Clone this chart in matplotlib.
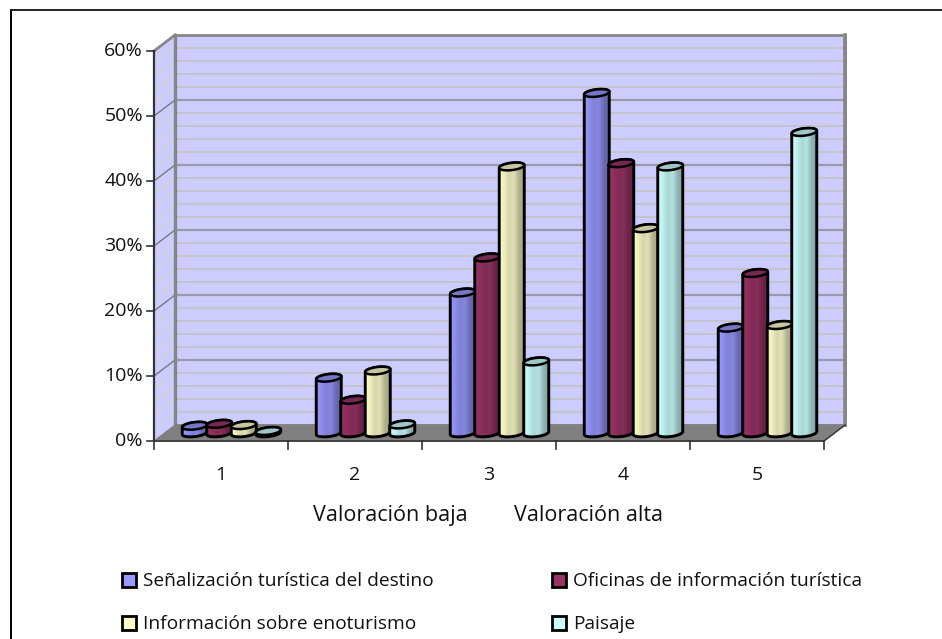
import numpy as np
import matplotlib
matplotlib.use("Agg")
import matplotlib.pyplot as plt
from matplotlib.colors import LinearSegmentedColormap
from matplotlib.lines import Line2D
from matplotlib.patches import PathPatch, Polygon, Rectangle
from matplotlib.path import Path

categories = ["1", "2", "3", "4", "5"]
series_names = [
    "Señalización turística del destino",
    "Oficinas de información turística",
    "Información sobre enoturismo",
    "Paisaje",
]
senalizacion = [1.1, 8.5, 21.6, 52.3, 16.2]
oficinas = [1.4, 5.1, 27.0, 41.5, 24.6]
enoturismo = [1.2, 9.6, 41.0, 31.5, 16.6]
paisaje = [0.3, 1.3, 11.0, 41.0, 46.3]
series_values = [senalizacion, oficinas, enoturismo, paisaje]
series_colors = ["#9999ff", "#993366", "#ffffcc", "#ccffff"]
y_ticks = [0, 10, 20, 30, 40, 50, 60]

W, H = 942, 639
plt.rcParams["font.family"] = ["Open Sans", "DejaVu Sans"]

fig = plt.figure(figsize=(W / 100, H / 100), dpi=100)
# front plane of the fake 3d box, in pixels
left, right, bottom, top = 154, 824, 441, 51
ax = fig.add_axes([left / W, 1 - bottom / H, (right - left) / W, (bottom - top) / H])
ax.set_xlim(0.5, 5.5)
ax.set_ylim(0, 60)
ax.axis("off")

px_x = 5 / (right - left)
px_y = 60 / (bottom - top)
dx = 21 * px_x
dy = 16 * px_y

wall = "#ccccff"
edge = "#868686"
floor = "#808080"


def box(points, **kw):
    ax.add_patch(Polygon(points, closed=True, clip_on=False, **kw))


box([(5.5 + dx, dy), (5.5 + dx, 60 + dy), (0.5 + dx, 60 + dy), (0.5 + dx, dy)], fc=wall, ec=edge, lw=2, zorder=1)
box([(0.5, 0), (0.5 + dx, dy), (0.5 + dx, 60 + dy), (0.5, 60)], fc=wall, ec="none", zorder=1)
box([(0.5, 0), (5.5, 0), (5.5 + dx, dy), (0.5 + dx, dy)], fc=floor, ec=floor, lw=0.8, zorder=2)

# gridlines on back wall and side wall
for v in np.arange(2, 60, 2):
    major = v % 10 == 0
    c = "#9a9aa8" if major else "#c4c4c8"
    ax.plot([0.5 + dx, 5.5 + dx], [v + dy, v + dy], color=c, lw=1.6 if major else 1.3, zorder=1.5, clip_on=False)
    ax.plot([0.5, 0.5 + dx], [v, v + dy], color="#808088" if major else "#d0d0d4", lw=1.1, zorder=1.5, clip_on=False)

ax.plot([0.5 + dx, 0.5 + dx], [dy, 60 + dy], color=edge, lw=2.4, zorder=1.6, clip_on=False)
ax.plot([0.5, 0.5 + dx], [60, 60 + dy], color=edge, lw=2, zorder=1.6, clip_on=False)
ax.plot([5.5 + dx, 5.5 + dx], [dy, 60 + dy], color=edge, lw=2.6, zorder=1.6, clip_on=False)

# axis lines and ticks
ax.plot([0.5, 0.5], [0, 60], color="#333333", lw=1.6, zorder=3, clip_on=False)
ax.plot([0.5, 5.5], [0, 0], color="#333333", lw=1.2, zorder=3, clip_on=False)
ax.plot([5.5, 5.5 + dx], [0, dy], color="#333333", lw=1, zorder=3, clip_on=False)
for v in y_ticks:
    ax.plot([0.5 - 7 * px_x, 0.5], [v, v], color="#333333", lw=1.2, clip_on=False, zorder=3)
    ax.text(0.5 - 11 * px_x, v, f"{v}%", ha="right", va="center", fontsize=14, color="#111111")
for i in range(6):
    ax.plot([0.5 + i, 0.5 + i], [0, -8 * px_y], color="#333333", lw=1.2, clip_on=False, zorder=3)
for i, c in enumerate(categories):
    ax.text(i + 1, -34 * px_y, c, ha="center", va="center", fontsize=14, color="#111111")

# cylinders
bar_step = 24.5 * px_x
bar_w = 25 * px_x
ell_h = 3.6 * px_y
tilt = 1.4 * px_y
base = 8 * px_y


def cylinder(cx, v, color, z):
    t = np.linspace(0, np.pi, 40)
    x = cx + bar_w / 2 * np.cos(t)
    top_y = base + v + ell_h * np.sin(t) + tilt * np.cos(t)
    bot_y = base - ell_h * np.sin(t) + tilt * np.cos(t)
    verts = np.r_[np.c_[x, top_y], np.c_[x[::-1], bot_y[::-1]], [[x[0], top_y[0]]]]
    body = Path(verts, closed=True)
    rgb = np.array(matplotlib.colors.to_rgb(color))
    cmap = LinearSegmentedColormap.from_list(
        "cyl", [rgb * 1.0, rgb * 0.93, rgb * 0.84, rgb * 0.88, rgb * 0.7, rgb * 0.64]
    )
    im = ax.imshow(
        np.linspace(0, 1, 64)[None, :],
        extent=(cx - bar_w / 2, cx + bar_w / 2, base - ell_h * 2, base + v + ell_h * 2),
        cmap=cmap, aspect="auto", zorder=z, interpolation="bilinear",
    )
    outline = PathPatch(body, fc="none", ec="black", lw=2.1, zorder=z + 0.02, clip_on=False)
    ax.add_patch(outline)
    im.set_clip_path(outline)
    # top cap
    t2 = np.linspace(np.pi, 2 * np.pi, 40)
    x2 = cx + bar_w / 2 * np.cos(t2)
    y2 = base + v + ell_h * np.sin(t2) + tilt * np.cos(t2)
    cap = np.r_[np.c_[x, top_y], np.c_[x2, y2]]
    ax.add_patch(Polygon(cap, closed=True, fc=rgb * 0.78, ec="black", lw=1.8, zorder=z + 0.03, clip_on=False))


for i in range(len(categories)):
    for j, vals in enumerate(series_values):
        cx = i + 1 + dx / 2 + (j - 1.5) * bar_step
        cylinder(cx, vals[i], series_colors[j], 4 + i + j * 0.1)

ax.set_xlim(0.5, 5.5)
ax.set_ylim(0, 60)

fig.text(390 / W, 1 - 521 / H, "Valoración baja", ha="center", va="baseline", fontsize=15.5, color="#111111")
fig.text(589 / W, 1 - 521 / H, "Valoración alta", ha="center", va="baseline", fontsize=15.5, color="#111111")

# legend
legend_pos = [(122, 580), (552, 580), (122, 623), (552, 623)]
for (lx, ly), name, color in zip(legend_pos, series_names, series_colors):
    fig.add_artist(Rectangle((lx / W, 1 - (ly + 7) / H), 14 / W, 14 / H, transform=fig.transFigure, fc=color, ec="black", lw=2))
    fig.text((lx + 21) / W, 1 - (ly + 6) / H, name, ha="left", va="baseline", fontsize=13.8, color="#111111")

# outer frame, open on the right and at the bottom
fig.add_artist(Line2D([11 / W, 11 / W], [0, 1 - 9.5 / H], transform=fig.transFigure, color="black", lw=1.4))
fig.add_artist(Line2D([11 / W, 1], [1 - 9.5 / H, 1 - 9.5 / H], transform=fig.transFigure, color="#222222", lw=1.4))

fig.savefig("out.png", dpi=100)
